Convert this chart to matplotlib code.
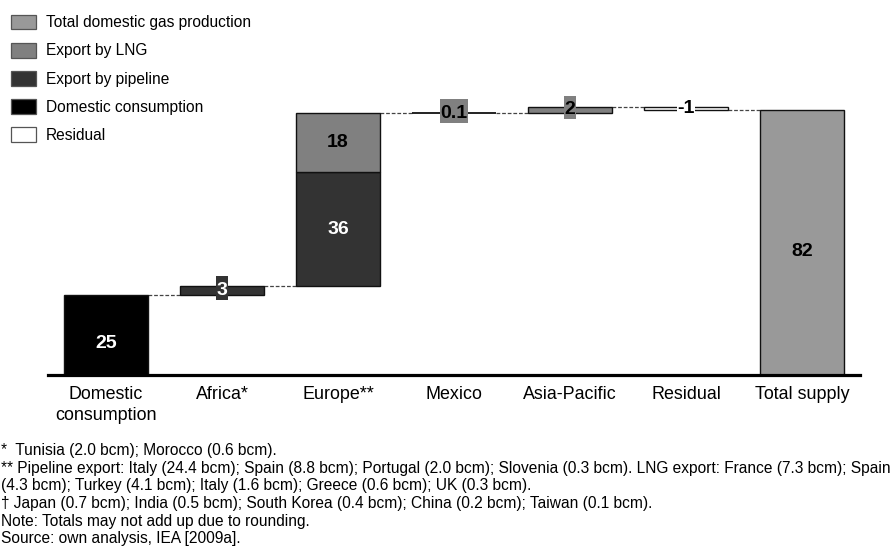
import matplotlib
matplotlib.use("Agg")
import matplotlib.pyplot as plt
from matplotlib.patches import Patch
from matplotlib.path import Path

plt.rcParams['font.family'] = ['Liberation Sans', 'DejaVu Sans']

# ---- data (bcm) ----
categories = ["Domestic\nconsumption", "Africa*", "Europe**", "Mexico",
              "Asia-Pacific", "Residual", "Total supply"]
domestic_consumption = 25.0
pipeline_export = [0.0, 2.6, 35.5, 0.0, 0.0, 0.0]   # per category (idx 0..5)
lng_export = [0.0, 0.0, 18.2, 0.1, 1.9, 0.0]
residual = -1.0
value_labels = {"domestic": "25", "africa_pipe": "3", "europe_pipe": "36",
                "europe_lng": "18", "mexico": "0.1", "asia": "2",
                "residual": "-1", "total": "82"}

legend_labels = ["Total domestic gas production", "Export by LNG",
                 "Export by pipeline", "Domestic consumption", "Residual"]
footnotes = [
    "*  Tunisia (2.0 bcm); Morocco (0.6 bcm).",
    "** Pipeline export: Italy (24.4 bcm); Spain (8.8 bcm); Portugal (2.0 bcm); Slovenia (0.3 bcm). LNG export: France (7.3 bcm); Spain",
    "(4.3 bcm); Turkey (4.1 bcm); Italy (1.6 bcm); Greece (0.6 bcm); UK (0.3 bcm).",
    "\u2020 Japan (0.7 bcm); India (0.5 bcm); South Korea (0.4 bcm); China (0.2 bcm); Taiwan (0.1 bcm).",
    "Note: Totals may not add up due to rounding.",
    "Source: own analysis, IEA [2009a].",
]

# ---- colours ----
c_total = "#999999"
c_lng = "#808080"
c_pipe = "#333333"
c_dom = "#000000"
c_res = "#ffffff"

W, H = 891, 548
fig = plt.figure(figsize=(W / 100, H / 100), dpi=100)
ax = fig.add_axes([48 / W, (H - 375) / H, (860 - 48) / W, 375 / H])
ax.set_xlim(-0.5, 6.5)
ax.set_ylim(0, 116.5)
for s in ax.spines.values():
    s.set_visible(False)
ax.set_yticks([])

bw = 0.72
ec = "#111111"
lw = 1.0
fs_val = 14


def tight_box(x0, y0, width, height, mutation_size):
    px = 0.04 * mutation_size
    pb = 0.05 * mutation_size
    pt = 0.3 * mutation_size
    xa = x0 - px
    xb = x0 + width + px
    ya = y0 - pb
    yb = y0 + height + pt
    return Path([(xa, ya), (xb, ya), (xb, yb), (xa, yb), (xa, ya)], closed=True)


def label(x, y, txt, color, box=None, va="center"):
    kw = {}
    if box is not None:
        kw["bbox"] = dict(boxstyle=tight_box, facecolor=box, edgecolor="none")
    ax.text(x, y, txt, ha="center", va=va, fontsize=fs_val, fontweight="bold",
            color=color, zorder=5, **kw)


levels = []  # cumulative level after each category
# Domestic consumption
ax.bar(0, domestic_consumption, bw, color=c_dom, edgecolor=ec, linewidth=lw, zorder=3)
label(0, domestic_consumption / 2, value_labels["domestic"], "white", va="top")
cum = domestic_consumption
levels.append(cum)

# Africa
ax.bar(1, pipeline_export[1], bw, bottom=cum, color=c_pipe, edgecolor=ec, linewidth=lw, zorder=3)
label(1, cum + pipeline_export[1] / 2, value_labels["africa_pipe"], "white", box=c_pipe)
cum += pipeline_export[1]
levels.append(cum)

# Europe
ax.bar(2, pipeline_export[2], bw, bottom=cum, color=c_pipe, edgecolor=ec, linewidth=lw, zorder=3)
label(2, cum + pipeline_export[2] / 2, value_labels["europe_pipe"], "white")
cum += pipeline_export[2]
ax.bar(2, lng_export[2], bw, bottom=cum, color=c_lng, edgecolor=ec, linewidth=lw, zorder=3)
label(2, cum + lng_export[2] / 2, value_labels["europe_lng"], "black")
cum += lng_export[2]
levels.append(cum)

# Mexico
ax.bar(3, lng_export[3], bw, bottom=cum, color=c_lng, edgecolor=ec, linewidth=1.3, zorder=3)
label(3, cum + lng_export[3] / 2, value_labels["mexico"], "black", box=c_lng)
cum += lng_export[3]
levels.append(cum)

# Asia-Pacific
ax.bar(4, lng_export[4], bw, bottom=cum, color=c_lng, edgecolor=ec, linewidth=lw, zorder=3)
label(4, cum + lng_export[4] / 2, value_labels["asia"], "black", box=c_lng)
cum += lng_export[4]
levels.append(cum)

# Residual
ax.bar(5, residual, bw, bottom=cum, color=c_res, edgecolor=ec, linewidth=lw, zorder=3)
label(5, cum + residual / 2, value_labels["residual"], "black", box=c_res)
cum += residual
levels.append(cum)

# Total supply
total = cum
ax.bar(6, total, bw, color=c_total, edgecolor=ec, linewidth=lw, zorder=3)
label(6, total / 2, value_labels["total"], "black", va="top")

# connectors
for i, lev in enumerate(levels):
    ax.plot([i + bw / 2, i + 1 - bw / 2], [lev, lev], color="#444444",
            linewidth=0.9, linestyle=(0, (3, 1.5)), zorder=2)

# baseline
ax.axhline(0, color="black", linewidth=2.3, zorder=4, clip_on=False)

ax.set_xticks(range(len(categories)))
ax.set_xticklabels(categories, fontsize=12.9, linespacing=1.3)
ax.tick_params(axis="x", length=0, pad=8)

# legend
handles = [Patch(facecolor=c, edgecolor="#555555", linewidth=0.9)
           for c in [c_total, c_lng, c_pipe, c_dom, c_res]]
ax.legend(handles, legend_labels, loc="upper left",
          bbox_to_anchor=(11 / W, 1 - 14.5 / H), bbox_transform=fig.transFigure,
          frameon=False, fontsize=11.2, handlelength=1.6, handleheight=1.1,
          handletextpad=0.62, labelspacing=0.8, borderpad=0, borderaxespad=0)

# footnotes
y0 = 455
for k, line in enumerate(footnotes):
    fig.text(1 / W, 1 - (y0 + 17.7 * k) / H, line, fontsize=11.2,
             ha="left", va="baseline")

fig.savefig("out.png", dpi=100)
